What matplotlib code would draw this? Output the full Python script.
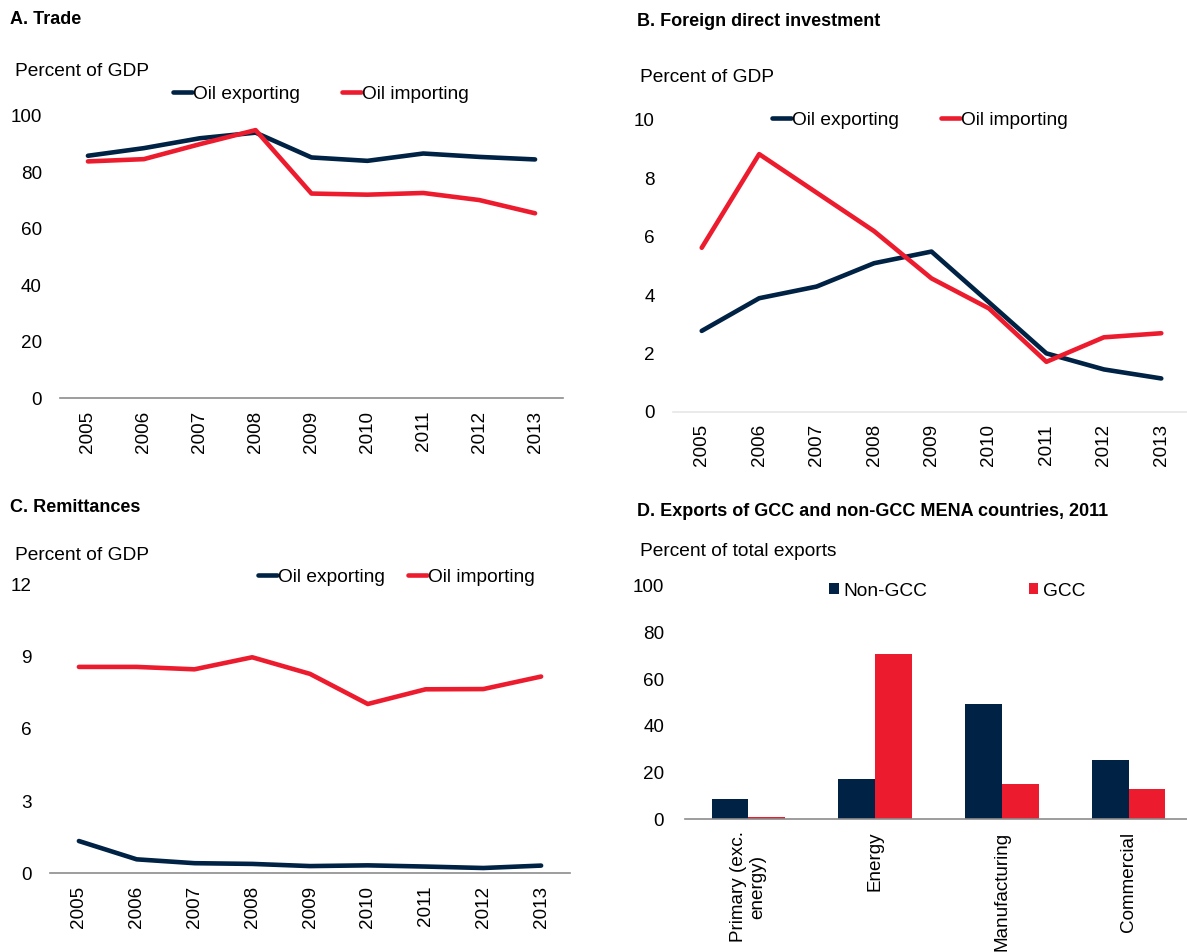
import matplotlib
matplotlib.use("Agg")
import matplotlib.pyplot as plt
import numpy as np

plt.rcParams['font.family'] = ['Liberation Sans', 'DejaVu Sans']

W, H = 1187, 952
NAVY = '#002244'
RED = '#EC1C2E'

years = ['2005', '2006', '2007', '2008', '2009', '2010', '2011', '2012', '2013']

# A. Trade (percent of GDP)
trade_exp = [85.9, 88.6, 92.1, 94.1, 85.3, 84.1, 86.7, 85.5, 84.6]
trade_imp = [83.9, 84.7, 90.0, 95.0, 72.5, 72.1, 72.7, 70.2, 65.5]

# B. Foreign direct investment (percent of GDP)
fdi_exp = [2.77, 3.89, 4.29, 5.09, 5.49, 3.75, 2.0, 1.45, 1.14]
fdi_imp = [5.62, 8.83, 7.51, 6.19, 4.57, 3.54, 1.71, 2.55, 2.69]

# C. Remittances (percent of GDP)
rem_exp = [1.34, 0.58, 0.42, 0.39, 0.30, 0.33, 0.28, 0.22, 0.32]
rem_imp = [8.57, 8.57, 8.47, 8.97, 8.28, 7.03, 7.64, 7.65, 8.17]

# D. Exports of GCC and non-GCC MENA countries, 2011
sectors = ['Primary (exc.\nenergy)', 'Energy', 'Manufacturing', 'Commercial']
non_gcc = [8.4, 17.0, 49.1, 25.3]
gcc = [1.0, 70.6, 15.1, 12.7]


def box(x0, x1, y_top, y_bot):
    return [x0 / W, 1 - y_bot / H, (x1 - x0) / W, (y_bot - y_top) / H]


def fpos(x, y):
    return (x / W, 1 - y / H)


fig = plt.figure(figsize=(W / 100, H / 100), dpi=100)

TICK = 13.6
LEG = 13.8
TITLE = 13.0


def style(ax, axis_color='#8c8c8c'):
    for s in ['top', 'right', 'left']:
        ax.spines[s].set_visible(False)
    ax.spines['bottom'].set_color(axis_color)
    ax.spines['bottom'].set_linewidth(1.2)
    ax.tick_params(length=0, labelsize=TICK)
    ax.tick_params(axis='y', pad=13)
    ax.tick_params(axis='x', pad=9)


def line_panel(rect, exp, imp, ylim, yticks, axis_color, leg_xy, colspace):
    ax = fig.add_axes(rect)
    x = np.arange(len(years))
    ax.plot(x, exp, color=NAVY, lw=3.3, label='Oil exporting', solid_capstyle='round')
    ax.plot(x, imp, color=RED, lw=3.3, label='Oil importing', solid_capstyle='round')
    ax.set_xlim(-0.5, len(years) - 0.5)
    ax.set_ylim(*ylim)
    ax.set_yticks(yticks)
    ax.set_xticks(x)
    ax.set_xticklabels(years, rotation=90)
    style(ax, axis_color)
    ax.legend(loc='center left', bbox_to_anchor=fpos(*leg_xy),
              bbox_transform=fig.transFigure, ncol=2, frameon=False,
              fontsize=LEG, handlelength=1.0, handletextpad=0.05,
              columnspacing=colspace, borderpad=0, borderaxespad=0)
    return ax


line_panel(box(60, 563, 116, 398), trade_exp, trade_imp, (0, 100),
           [0, 20, 40, 60, 80, 100], '#8c8c8c', (173, 94), 2.2)
line_panel(box(673, 1190, 120, 411.7), fdi_exp, fdi_imp, (0, 10),
           [0, 2, 4, 6, 8, 10], '#e6e6e6', (772, 120), 2.2)
line_panel(box(50, 570, 584.3, 873.3), rem_exp, rem_imp, (0, 12),
           [0, 3, 6, 9, 12], '#8c8c8c', (258, 577), 1.2)

# panel D bars
axd = fig.add_axes(box(685, 1192, 585.7, 819))
xs = np.arange(len(sectors))
bw = 0.29
axd.bar(xs - bw / 2, non_gcc, width=bw, color=NAVY, label='Non-GCC')
axd.bar(xs + bw / 2, gcc, width=bw, color=RED, label='GCC')
axd.set_xlim(-0.5, len(sectors) - 0.5)
axd.set_ylim(0, 100)
axd.set_yticks([0, 20, 40, 60, 80, 100])
axd.set_xticks(xs)
axd.set_xticklabels(sectors, rotation=90, ma='center')
style(axd)
axd.tick_params(axis='y', pad=15)
axd.tick_params(axis='x', pad=9)
axd.legend(loc='center left', bbox_to_anchor=fpos(829, 591),
           bbox_transform=fig.transFigure, ncol=2, frameon=False,
           fontsize=LEG, handlelength=0.5, handleheight=0.5, handletextpad=0.25,
           columnspacing=5.3, borderpad=0, borderaxespad=0)

# titles and unit labels
titles = [('A. Trade', 10, 20), ('B. Foreign direct investment', 637, 22),
          ('C. Remittances', 10, 508),
          ('D. Exports of GCC and non-GCC MENA countries, 2011', 637, 512)]
for t, x, y in titles:
    fig.text(*fpos(x, y), t, fontsize=TITLE, fontweight='bold', va='center', ha='left')

units = [('Percent of GDP', 15, 72), ('Percent of GDP', 640, 77),
         ('Percent of GDP', 15, 556), ('Percent of total exports', 640, 551)]
for t, x, y in units:
    fig.text(*fpos(x, y), t, fontsize=LEG, va='center', ha='left')

fig.savefig('out.png', dpi=100)
